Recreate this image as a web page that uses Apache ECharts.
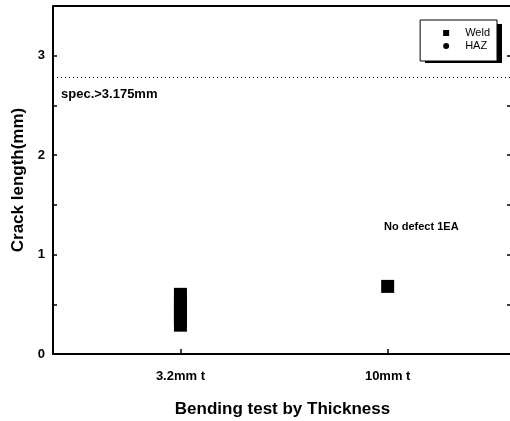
<!DOCTYPE html>
<html><head><meta charset="utf-8">
<script src="https://cdn.jsdelivr.net/npm/echarts@6/dist/echarts.min.js"></script>
<style>html,body{margin:0;padding:0;background:#fff}#c{width:510px;height:421px}</style>
</head><body><div id="c"></div>
<script>
const categories = ['3.2mm t', '10mm t'];
const categoryPos = [1, 2];
const weldX = [1, 1, 1, 1, 1, 1, 1, 2];
const weldY = [0.29, 0.34, 0.39, 0.44, 0.49, 0.54, 0.60, 0.68];
const hazX = [1, 1];
const hazY = [0.55, 0.42];
const specValue = 2.78;
const yTicks = [0, 1, 2, 3];

const chart = echarts.init(document.getElementById('c'));
const F = 'Liberation Sans, Arial, sans-serif';
chart.setOption({
  backgroundColor: '#fff',
  animation: false,
  grid: {left: 53, right: -2, top: 6, bottom: 67, containLabel: false, outerBoundsMode: 'none'},
  legend: {
    orient: 'vertical', right: 13, top: 20, itemGap: 1, itemWidth: 6, itemHeight: 6,
    padding: [7, 7, 9, 23], z: 10,
    backgroundColor: '#fff', borderColor: '#000', borderWidth: 1,
    textStyle: {fontFamily: F, fontSize: 11, color: '#000', padding: [0, 0, 0, 11], lineHeight: 12},
    data: [{name: 'Weld', icon: 'rect'}, {name: 'HAZ', icon: 'circle'}]
  },
  xAxis: {
    type: 'value', min: 0.385, max: 2.6,
    name: 'Bending test by Thickness', nameLocation: 'middle', nameGap: 47,
    nameTextStyle: {fontFamily: F, fontSize: 17, fontWeight: 'bold', color: '#000'},
    axisLine: {lineStyle: {color: '#000', width: 2}},
    splitLine: {show: false},
    axisTick: {inside: true, length: 5, lineStyle: {color: '#000', width: 1.5}, customValues: categoryPos},
    axisLabel: {customValues: categoryPos, margin: 16, fontFamily: F, fontSize: 13, fontWeight: 'bold', color: '#000',
      formatter: v => categories[categoryPos.indexOf(Math.round(v))] || ''}
  },
  yAxis: [{
    type: 'value', min: 0, max: 3.5, interval: 0.5,
    name: 'Crack length(mm)', nameLocation: 'middle', nameGap: 26,
    nameTextStyle: {fontFamily: F, fontSize: 17, fontWeight: 'bold', color: '#000'},
    axisLine: {show: true, lineStyle: {color: '#000', width: 2}},
    splitLine: {show: false},
    axisTick: {inside: true, length: 4, lineStyle: {color: '#000', width: 1.5}},
    axisLabel: {margin: 8, fontFamily: F, fontSize: 13, fontWeight: 'bold', color: '#000',
      formatter: v => yTicks.includes(v) ? String(v) : ''}
  }, {
    type: 'value', min: 0, max: 3.5, interval: 0.5, position: 'right',
    axisLine: {show: true, lineStyle: {color: '#000', width: 2}},
    splitLine: {show: false},
    axisTick: {inside: true, length: 5, lineStyle: {color: '#000', width: 1.5}},
    axisLabel: {show: false}
  }],
  graphic: [
    {type: 'line', shape: {x1: 53, y1: 6, x2: 512, y2: 6}, style: {stroke: '#000', lineWidth: 2}},
    {type: 'rect', z: 5, shape: {x: 425, y: 24, width: 77, height: 39}, style: {fill: '#000'}},
    {type: 'text', left: 61, top: 88, style: {text: 'spec.>3.175mm', font: 'bold 13px ' + F, fill: '#000'}},
    {type: 'text', left: 384, top: 221, style: {text: 'No defect 1EA', font: 'bold 11px ' + F, fill: '#000'}}
  ],
  series: [{
    name: 'Weld', type: 'scatter', symbol: 'rect', symbolSize: 13,
    itemStyle: {color: '#000', opacity: 1},
    data: weldX.map((x, i) => [x, weldY[i]]),
    markLine: {silent: true, symbol: 'none', label: {show: false},
      lineStyle: {color: '#000', type: [1, 3], width: 1},
      data: [{yAxis: specValue}]}
  }, {
    name: 'HAZ', type: 'scatter', symbol: 'circle', symbolSize: 10,
    itemStyle: {color: '#000', opacity: 1},
    data: hazX.map((x, i) => [x, hazY[i]])
  }]
});
</script></body></html>
